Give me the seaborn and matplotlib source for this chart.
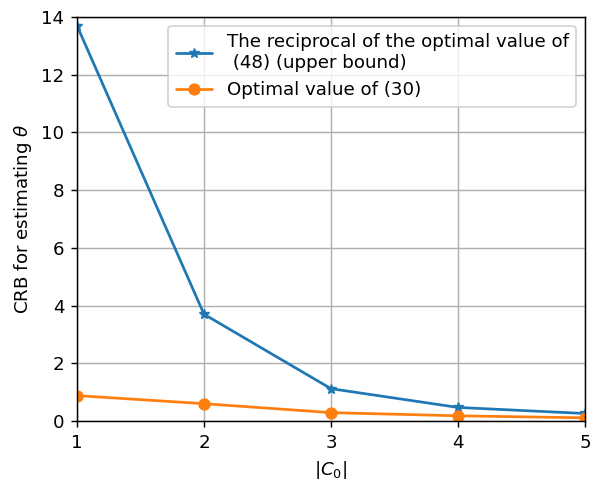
import matplotlib
matplotlib.use("Agg")
import matplotlib.pyplot as plt
import seaborn as sns
import pandas as pd

x_vals = [1, 2, 3, 4, 5]
upper_bound = [13.7, 3.7, 1.12, 0.47, 0.26]
optimal_30 = [0.88, 0.6, 0.29, 0.18, 0.11]
label_upper = "The reciprocal of the optimal value of\n (48) (upper bound)"
label_opt = "Optimal value of (30)"
x_ticks = [1, 2, 3, 4, 5]
y_ticks = [0, 2, 4, 6, 8, 10, 12, 14]

sns.set_style("ticks")
plt.rcParams['font.family'] = ['DejaVu Sans']
plt.rcParams['text.color'] = 'black'
plt.rcParams['axes.labelcolor'] = 'black'

DPI = 131
fig = plt.figure(figsize=(592 / DPI, 483 / DPI), dpi=DPI)
ax = fig.add_axes([77 / 592, 62 / 483, 508 / 592, 404 / 483])

df1 = pd.DataFrame({"x": x_vals, "y": upper_bound})
df2 = pd.DataFrame({"x": x_vals, "y": optimal_30})
sns.lineplot(data=df1, x="x", y="y", ax=ax, color="#1f77b4", marker="*",
             markersize=6, markeredgecolor="#1f77b4", linewidth=1.5, label=label_upper)
sns.lineplot(data=df2, x="x", y="y", ax=ax, color="#ff7f0e", marker="o",
             markersize=6, markeredgecolor="#ff7f0e", linewidth=1.5, label=label_opt)

ax.set_xlim(1, 5)
ax.set_ylim(0, 14)
ax.set_xticks(x_ticks)
ax.set_yticks(y_ticks)
ax.grid(True, color="#b0b0b0", linewidth=0.8)
for s in ax.spines.values():
    s.set_color("black")
    s.set_linewidth(0.8)
ax.tick_params(colors="black", labelsize=10, direction="out", length=3.5, width=0.8)
ax.set_xlabel(r"$|C_0|$", fontsize=10, color="black")
ax.set_ylabel(r"CRB for estimating $\theta$", fontsize=10, color="black")
leg = ax.legend(loc="upper right", fontsize=10, frameon=True)
for t in leg.get_texts():
    t.set_color("black")

fig.savefig("out.png", dpi=DPI)
